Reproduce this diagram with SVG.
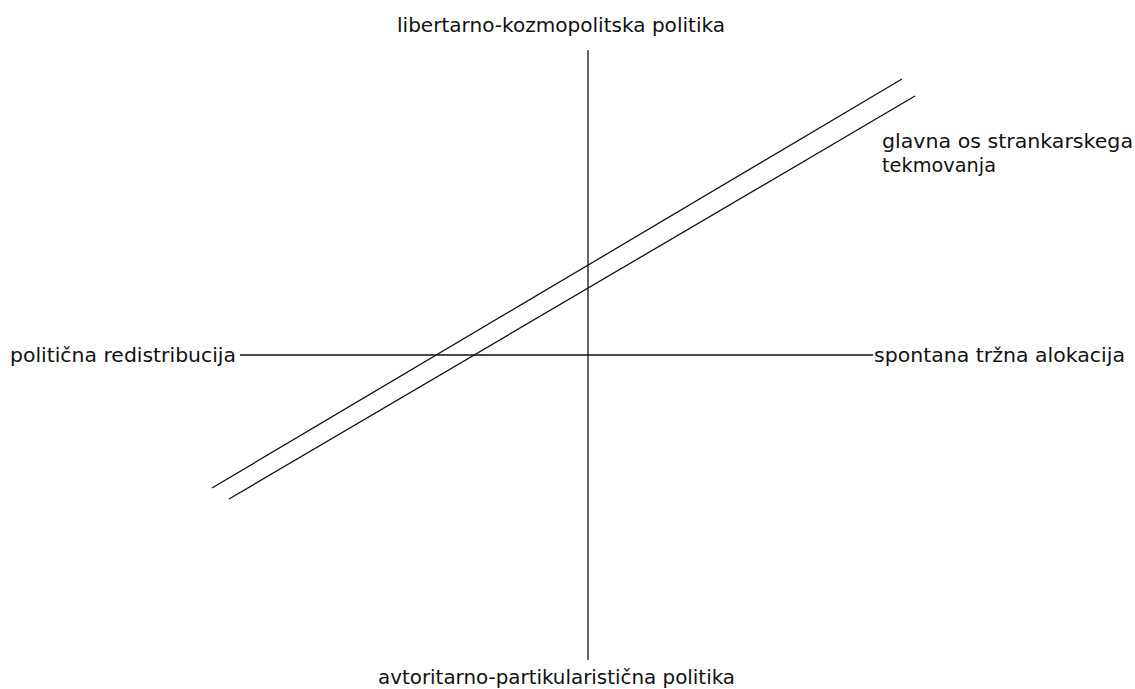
<svg xmlns="http://www.w3.org/2000/svg" width="1135" height="689" viewBox="0 0 1135 689">
<style>
.t{font-family:"DejaVu Sans","Liberation Sans",sans-serif;font-size:19.5px;fill:#111}
.l{stroke:#111;stroke-width:1.3;fill:none}
</style>
<rect width="1135" height="689" fill="#fff"/>
<g id="connectors">
<line class="l" x1="588" y1="50" x2="588" y2="660"/>
<line class="l" x1="240" y1="355" x2="873" y2="355"/>
<line class="l" x1="212" y1="488" x2="902" y2="79"/>
<line class="l" x1="229" y1="499" x2="915" y2="96"/>
</g>
<g id="top"><text class="t" x="397" y="32" textLength="328" lengthAdjust="spacingAndGlyphs">libertarno-kozmopolitska politika</text></g>
<g id="left"><text class="t" x="10" y="362" textLength="226" lengthAdjust="spacingAndGlyphs">politična redistribucija</text></g>
<g id="right"><text class="t" x="874" y="362" textLength="251" lengthAdjust="spacingAndGlyphs">spontana tržna alokacija</text></g>
<g id="bottom"><text class="t" x="378" y="684" textLength="357" lengthAdjust="spacingAndGlyphs">avtoritarno-partikularistična politika</text></g>
<g id="axis-label"><text class="t" x="882" y="148" textLength="251" lengthAdjust="spacingAndGlyphs">glavna os strankarskega</text><text class="t" x="882" y="172" textLength="114" lengthAdjust="spacingAndGlyphs">tekmovanja</text></g>
</svg>
